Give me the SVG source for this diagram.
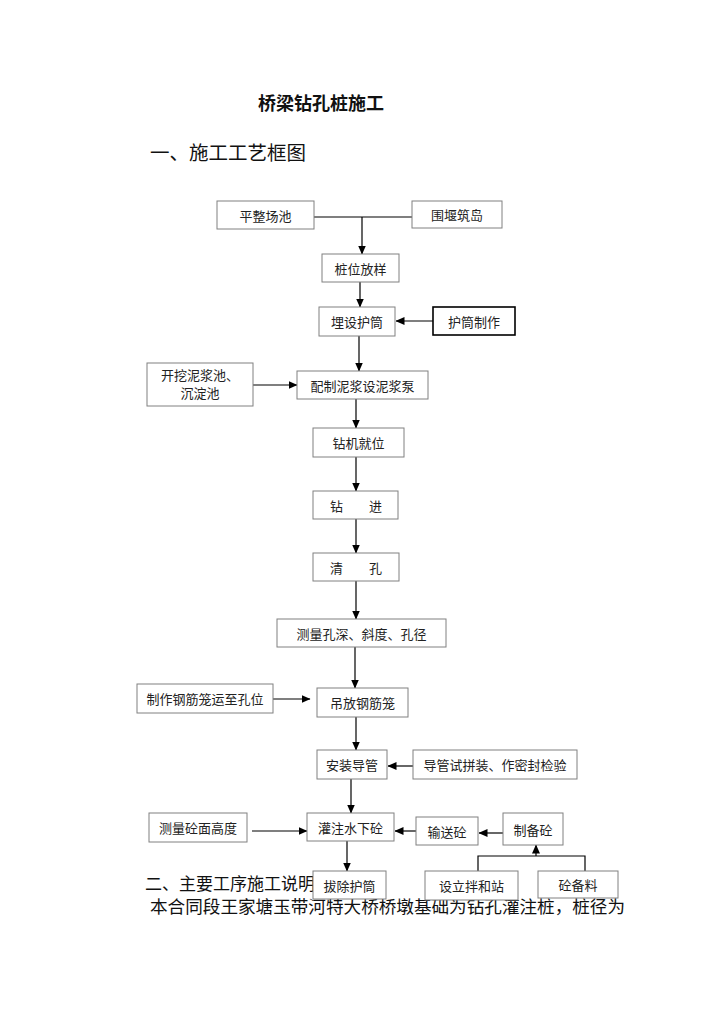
<svg xmlns="http://www.w3.org/2000/svg" width="726" height="1026" viewBox="0 0 726 1026">
<style>
.bx{fill:#fff;stroke:#808080;stroke-width:1}
.bk{fill:#fff;stroke:#000;stroke-width:1.6}
.t{font-family:"Noto Sans CJK SC","Noto Sans CJK JP",sans-serif;font-size:13px;fill:#222;text-anchor:middle;dominant-baseline:central}
.ln{fill:none;stroke:#000;stroke-width:1.2}
.ar{fill:none;stroke:#000;stroke-width:1.2;marker-end:url(#ah)}
.doc{font-family:"Noto Sans CJK SC","Noto Sans CJK JP",sans-serif;fill:#111}
</style>
<defs>
<marker id="ah" markerUnits="userSpaceOnUse" markerWidth="9" markerHeight="8" refX="8.5" refY="4" orient="auto">
<path d="M0,0 L9,4 L0,8 z" fill="#000"/>
</marker>
</defs>
<rect width="726" height="1026" fill="#fff"/>
<text class="doc" x="321" y="110" font-size="18" font-weight="bold" text-anchor="middle">桥梁钻孔桩施工</text>
<text class="doc" x="150" y="160" font-size="19.5">一、施工工艺框图</text>
<text class="doc" x="145" y="890" font-size="17">二、主要工序施工说明</text>
<text class="doc" x="150" y="913" font-size="17.6">本合同段王家塘玉带河特大桥桥墩基础为钻孔灌注桩，桩径为</text>
<g id="connectors">
<path class="ln" d="M314,217 H412"/>
<path class="ar" d="M362,217 V254"/>
<path class="ar" d="M360,282 V307"/>
<path class="ar" d="M433,321 H396"/>
<path class="ar" d="M359,336 V371"/>
<path class="ar" d="M253,385 H297"/>
<path class="ar" d="M356,399 V428"/>
<path class="ar" d="M356,457 V491"/>
<path class="ar" d="M356,519 V553"/>
<path class="ar" d="M356,581 V619"/>
<path class="ar" d="M355,647 V688"/>
<path class="ar" d="M273,699 H310"/>
<path class="ar" d="M356,717 V750"/>
<path class="ar" d="M413,766 H388"/>
<path class="ar" d="M351,779 V813"/>
<path class="ar" d="M252,831 H307"/>
<path class="ar" d="M416,831 H395"/>
<path class="ar" d="M503,833 H479"/>
<path class="ln" d="M478,871 V856 H585 V871"/>
<path class="ar" d="M536,856 V845"/>
<path class="ar" d="M347,841 V871"/>
</g>
<g id="n1"><rect class="bx" x="217" y="201" width="97" height="28"/><text class="t" x="265.5" y="215">平整场池</text></g>
<g id="n2"><rect class="bx" x="412" y="201" width="90" height="27"/><text class="t" x="457" y="214.5">围堰筑岛</text></g>
<g id="n3"><rect class="bx" x="322" y="254" width="77" height="28"/><text class="t" x="360.5" y="268">桩位放样</text></g>
<g id="n4"><rect class="bx" x="319" y="307" width="76" height="29"/><text class="t" x="357" y="321.5">埋设护筒</text></g>
<g id="n5"><rect class="bk" x="433" y="307" width="82" height="28"/><text class="t" x="474" y="321">护筒制作</text></g>
<g id="n6"><rect class="bx" x="297" y="371" width="131" height="28"/><text class="t" x="362.5" y="385">配制泥浆设泥浆泵</text></g>
<g id="n7"><rect class="bx" x="147" y="363" width="106" height="43"/><text class="t" x="200" y="374" font-size="12">开挖泥浆池、</text><text class="t" x="200" y="392" font-size="12">沉淀池</text></g>
<g id="n8"><rect class="bx" x="313" y="428" width="91" height="29"/><text class="t" x="358.5" y="442.5">钻机就位</text></g>
<g id="n9"><rect class="bx" x="313" y="491" width="85" height="28"/><text class="t" x="356" y="505">钻　　进</text></g>
<g id="n10"><rect class="bx" x="313" y="553" width="86" height="28"/><text class="t" x="356" y="567">清　　孔</text></g>
<g id="n11"><rect class="bx" x="277" y="619" width="169" height="28"/><text class="t" x="361.5" y="633">测量孔深、斜度、孔径</text></g>
<g id="n12"><rect class="bx" x="137" y="684" width="136" height="29"/><text class="t" x="205" y="698.5">制作钢筋笼运至孔位</text></g>
<g id="n13"><rect class="bx" x="317" y="688" width="91" height="29"/><text class="t" x="362.5" y="702.5">吊放钢筋笼</text></g>
<g id="n14"><rect class="bx" x="317" y="750" width="70" height="29"/><text class="t" x="352" y="764.5">安装导管</text></g>
<g id="n15"><rect class="bx" x="413" y="750" width="164" height="29"/><text class="t" x="495" y="764.5">导管试拼装、作密封检验</text></g>
<g id="n16"><rect class="bx" x="307" y="813" width="87" height="28"/><text class="t" x="350.5" y="827">灌注水下砼</text></g>
<g id="n17"><rect class="bx" x="149" y="813" width="98" height="29"/><text class="t" x="198" y="827.5">测量砼面高度</text></g>
<g id="n18"><rect class="bx" x="416" y="817" width="62" height="28"/><text class="t" x="447" y="831">输送砼</text></g>
<g id="n19"><rect class="bx" x="503" y="813" width="60" height="32"/><text class="t" x="533" y="829">制备砼</text></g>
<g id="n20"><rect class="bx" x="313" y="871" width="73" height="28"/><text class="t" x="349.5" y="885">拔除护筒</text></g>
<g id="n21"><rect class="bx" x="425" y="871" width="93" height="29"/><text class="t" x="471.5" y="885.5">设立拌和站</text></g>
<g id="n22"><rect class="bx" x="538" y="871" width="80" height="27"/><text class="t" x="578" y="884.5">砼备料</text></g>
</svg>
